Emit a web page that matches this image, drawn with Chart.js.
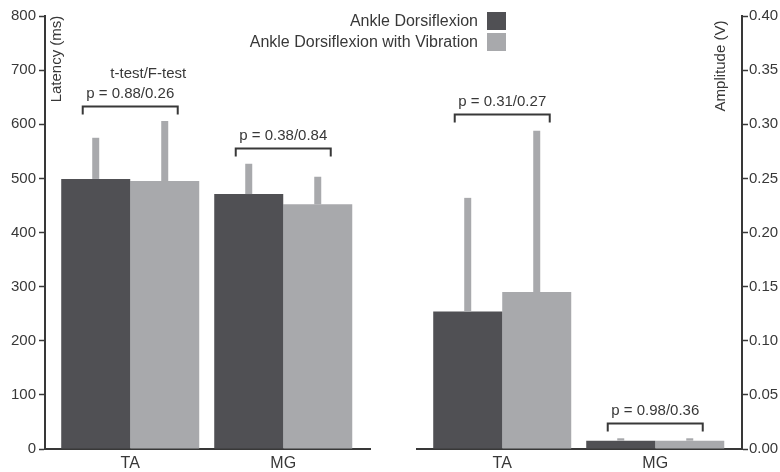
<!DOCTYPE html>
<html>
<head>
<meta charset="utf-8">
<script src="https://cdn.jsdelivr.net/npm/chart.js@4.4.0/dist/chart.umd.min.js"></script>
<style>
  html, body { margin: 0; padding: 0; background: #fff; }
  #wrap { position: relative; width: 780px; height: 472px; overflow: hidden; font-family: "Liberation Sans", Arial, sans-serif; color: #383838; }
  .panel { position: absolute; top: 0; width: 390px; height: 472px; }
  #legend { position: absolute; right: 274px; top: 10px; }
  .row { display: flex; align-items: center; justify-content: flex-end; height: 21px; margin-bottom: 0.5px; font-size: 16px; white-space: nowrap; }
  .sw { width: 19px; height: 18px; margin-left: 9px; }
</style>
</head>
<body>
<div id="wrap">
  <div class="panel" style="left:0"><canvas id="latencyChart"></canvas></div>
  <div class="panel" style="left:390px"><canvas id="amplitudeChart"></canvas></div>
  <div id="legend"></div>
</div>
<script>
// data
const categories = ['TA', 'MG'];
const seriesNames = ['Ankle Dorsiflexion', 'Ankle Dorsiflexion with Vibration'];

const latencyPlain = [499, 471];
const latencyPlainSd = [76, 56];
const latencyVib = [495, 452];
const latencyVibSd = [111, 51];

const ampPlain = [0.127, 0.0077];
const ampPlainSd = [0.105, 0.0022];
const ampVib = [0.145, 0.0077];
const ampVibSd = [0.149, 0.0022];

// p-values (t-test / F-test) and bracket heights in axis units
const latencyP = ['p = 0.88/0.26', 'p = 0.38/0.84'];
const latencyBracket = [634, 556];
const ampP = ['p = 0.31/0.27', 'p = 0.98/0.36'];
const ampBracket = [0.3095, 0.0243];

// look
const DARK = '#505054';
const LIGHT = '#a8a9ac';
const INK = '#383838';
const FONT = '"Liberation Sans", Arial, sans-serif';
const CAT_POS = [0.557, 1.557];
const X_MAX = 2.124;

// legend (html)
const legend = document.getElementById('legend');
seriesNames.forEach((name, i) => {
  const row = document.createElement('div');
  row.className = 'row';
  row.innerHTML = `<span>${name}</span><span class="sw" style="background:${i === 0 ? DARK : LIGHT}"></span>`;
  legend.appendChild(row);
});

// error bars, brackets and axis titles
const annotate = {
  id: 'annotate',
  afterDatasetsDraw(chart, args, opts) {
    const ctx = chart.ctx;
    const y = chart.scales.y;
    ctx.save();

    chart.data.datasets.forEach((ds, i) => {
      const meta = chart.getDatasetMeta(i);
      meta.data.forEach((bar, j) => {
        const top = y.getPixelForValue(ds.data[j].y + ds.errors[j]);
        ctx.fillStyle = LIGHT;
        ctx.fillRect(bar.x - 3.5, top, 7, bar.y - top);
      });
    });

    const m0 = chart.getDatasetMeta(0).data;
    const m1 = chart.getDatasetMeta(1).data;
    ctx.strokeStyle = INK;
    ctx.lineWidth = 2;
    ctx.fillStyle = INK;
    ctx.font = '15px ' + FONT;
    ctx.textAlign = 'center';
    ctx.textBaseline = 'alphabetic';
    opts.levels.forEach((lvl, j) => {
      const yb = Math.round(y.getPixelForValue(lvl)) + 0.5;
      const x0 = m0[j].x - 13;
      const x1 = m1[j].x + 13;
      ctx.beginPath();
      ctx.moveTo(x0, yb + 8);
      ctx.lineTo(x0, yb);
      ctx.lineTo(x1, yb);
      ctx.lineTo(x1, yb + 8);
      ctx.stroke();
      ctx.fillText(opts.labels[j], (x0 + x1) / 2, yb - 9);
      if (opts.note && j === 0) {
        ctx.fillText(opts.note, (x0 + x1) / 2 + 18, yb - 29);
      }
    });

    ctx.textBaseline = 'middle';
    ctx.translate(opts.title.x, opts.title.y);
    ctx.rotate(-Math.PI / 2);
    ctx.fillText(opts.title.text, 0, 0);
    ctx.restore();
  }
};

function makeChart(id, values, errors, yMax, yStep, decimals, yPos, padding, axisWidth, tickPad, notes) {
  return new Chart(document.getElementById(id), {
    type: 'bar',
    data: {
      datasets: [
        {
          label: seriesNames[0],
          data: values[0].map((v, i) => ({ x: CAT_POS[i], y: v })),
          errors: errors[0],
          backgroundColor: DARK
        },
        {
          label: seriesNames[1],
          data: values[1].map((v, i) => ({ x: CAT_POS[i], y: v })),
          errors: errors[1],
          backgroundColor: LIGHT
        }
      ]
    },
    options: {
      responsive: true,
      maintainAspectRatio: false,
      animation: false,
      layout: { padding: padding },
      datasets: { bar: { categoryPercentage: 0.902, barPercentage: 1 } },
      plugins: {
        legend: { display: false },
        tooltip: { enabled: false },
        annotate: notes
      },
      scales: {
        x: {
          type: 'linear',
          min: 0,
          max: X_MAX,
          offset: false,
          grid: { display: false, offset: false },
          border: { color: INK, width: 2 },
          afterBuildTicks: s => { s.ticks = CAT_POS.map(v => ({ value: v })); },
          afterFit: s => { s.height = 23; },
          ticks: {
            autoSkip: false,
            maxRotation: 0,
            padding: -3,
            color: INK,
            font: { family: FONT, size: 16 },
            callback: (v, i) => categories[i]
          }
        },
        y: {
          position: yPos,
          min: 0,
          max: yMax,
          grid: { drawOnChartArea: false, tickLength: 6, color: INK, tickWidth: 1.5 },
          border: { color: INK, width: 2 },
          afterFit: s => { s.width = axisWidth; },
          ticks: {
            stepSize: yStep,
            padding: tickPad,
            color: INK,
            font: { family: FONT, size: 15 },
            callback: v => v.toFixed(decimals)
          }
        }
      }
    },
    plugins: [annotate]
  });
}

makeChart('latencyChart',
  [latencyPlain, latencyVib], [latencyPlainSd, latencyVibSd],
  800, 100, 0, 'left',
  { top: 16, right: 20, left: 0, bottom: 0 }, 45, 3,
  { levels: latencyBracket, labels: latencyP, note: 't-test/F-test',
    title: { text: 'Latency (ms)', x: 57, y: 59 } });

makeChart('amplitudeChart',
  [ampPlain, ampVib], [ampPlainSd, ampVibSd],
  0.4, 0.05, 2, 'right',
  { top: 16, right: 0, left: 27, bottom: 0 }, 38, 1,
  { levels: ampBracket, labels: ampP, note: null,
    title: { text: 'Amplitude (V)', x: 331, y: 66 } });
</script>
</body>
</html>
